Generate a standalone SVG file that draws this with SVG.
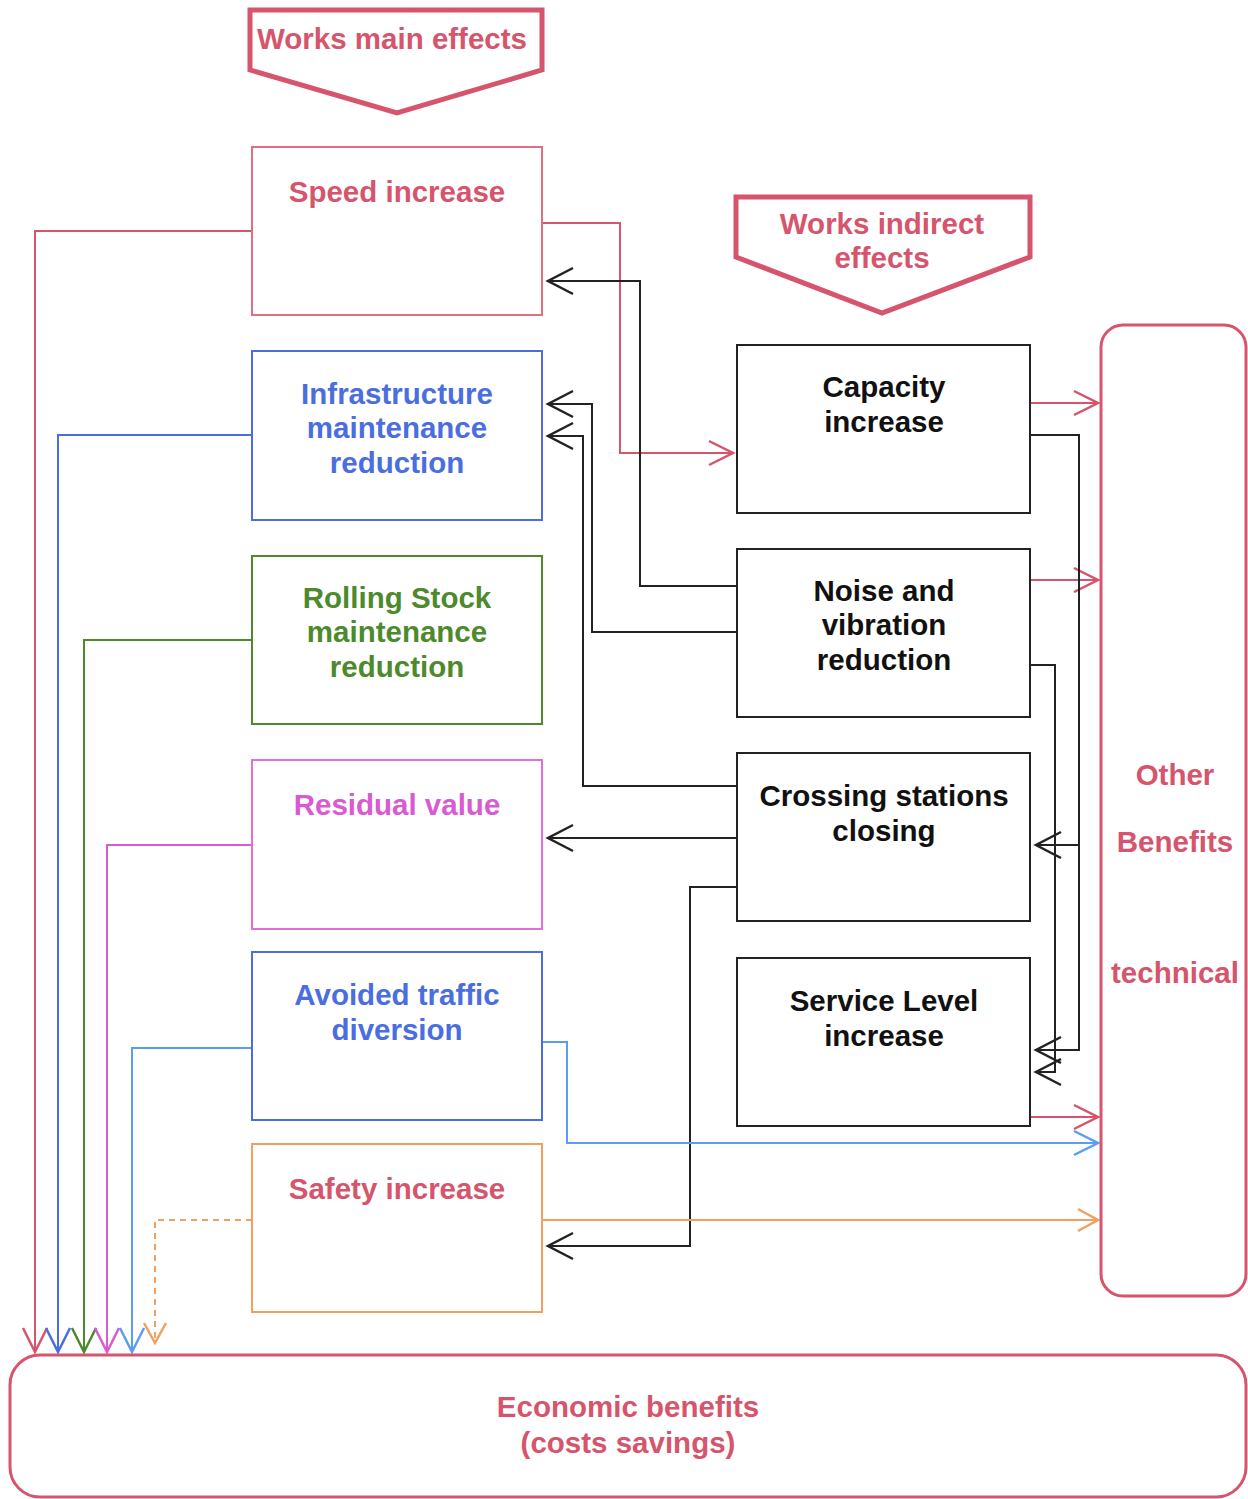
<svg xmlns="http://www.w3.org/2000/svg" width="1248" height="1499" viewBox="0 0 1248 1499">
<style>
text{font-family:"Liberation Sans",Arial,sans-serif;font-weight:bold;font-size:29.5px;text-anchor:middle}
.box{fill:#fff;stroke-width:2}
.c{fill:none;stroke-width:2}
.red{fill:#d6546c}
.blu{fill:#4a6ee0}
.grn{fill:#4c8a2c}
.mag{fill:#d95ad2}
.blk{fill:#111}
</style>
<defs>
<marker id="aR" markerUnits="userSpaceOnUse" orient="auto" refX="0" refY="0" markerWidth="30" markerHeight="30" overflow="visible"><path d="M-24,-12 L0,0 L-24,12" fill="none" stroke="#d6546c" stroke-width="2.5"/></marker>
<marker id="aB" markerUnits="userSpaceOnUse" orient="auto" refX="0" refY="0" markerWidth="30" markerHeight="30" overflow="visible"><path d="M-24,-12 L0,0 L-24,12" fill="none" stroke="#4a6ee0" stroke-width="2.5"/></marker>
<marker id="aG" markerUnits="userSpaceOnUse" orient="auto" refX="0" refY="0" markerWidth="30" markerHeight="30" overflow="visible"><path d="M-24,-12 L0,0 L-24,12" fill="none" stroke="#4c8a2c" stroke-width="2.5"/></marker>
<marker id="aM" markerUnits="userSpaceOnUse" orient="auto" refX="0" refY="0" markerWidth="30" markerHeight="30" overflow="visible"><path d="M-24,-12 L0,0 L-24,12" fill="none" stroke="#d95ad2" stroke-width="2.5"/></marker>
<marker id="aL" markerUnits="userSpaceOnUse" orient="auto" refX="0" refY="0" markerWidth="30" markerHeight="30" overflow="visible"><path d="M-24,-12 L0,0 L-24,12" fill="none" stroke="#5a9ef0" stroke-width="2.5"/></marker>
<marker id="aO" markerUnits="userSpaceOnUse" orient="auto" refX="0" refY="0" markerWidth="30" markerHeight="30" overflow="visible"><path d="M-20,-11 L0,0 L-20,11" fill="none" stroke="#f0a060" stroke-width="2.5"/></marker>
<marker id="aK" markerUnits="userSpaceOnUse" orient="auto" refX="0" refY="0" markerWidth="30" markerHeight="30" overflow="visible"><path d="M-25,-13 L0,0 L-25,13" fill="none" stroke="#222" stroke-width="2.5"/></marker>
</defs>

<g id="connectors">
<path class="c" stroke="#d6546c" d="M252,231 H35 V1352" marker-end="url(#aR)"/>
<path class="c" stroke="#4a6ee0" d="M252,435 H58 V1352" marker-end="url(#aB)"/>
<path class="c" stroke="#4c8a2c" d="M252,640 H84 V1352" marker-end="url(#aG)"/>
<path class="c" stroke="#d95ad2" d="M252,845 H107 V1352" marker-end="url(#aM)"/>
<path class="c" stroke="#5a9ef0" d="M252,1048 H132 V1352" marker-end="url(#aL)"/>
<path class="c" stroke="#f0a060" stroke-dasharray="6,5" d="M252,1220 H155 V1343" marker-end="url(#aO)"/>
<path class="c" stroke="#d6546c" d="M542,223 H620 V453 H733" marker-end="url(#aR)"/>
<path class="c" stroke="#222" d="M737,586 H640 V281 H548" marker-end="url(#aK)"/>
<path class="c" stroke="#222" d="M737,632 H592 V404 H548" marker-end="url(#aK)"/>
<path class="c" stroke="#222" d="M737,786 H583 V436 H548" marker-end="url(#aK)"/>
<path class="c" stroke="#222" d="M737,838 H548" marker-end="url(#aK)"/>
<path class="c" stroke="#222" d="M737,887 H690 V1246 H548" marker-end="url(#aK)"/>
<path class="c" stroke="#5a9ef0" d="M542,1042 H567 V1143 H1098" marker-end="url(#aL)"/>
<path class="c" stroke="#f0a060" d="M542,1220 H1098" marker-end="url(#aO)"/>
<path class="c" stroke="#d6546c" d="M1030,403 H1098" marker-end="url(#aR)"/>
<path class="c" stroke="#d6546c" d="M1030,580 H1098" marker-end="url(#aR)"/>
<path class="c" stroke="#d6546c" d="M1030,1117 H1098" marker-end="url(#aR)"/>
<path class="c" stroke="#222" d="M1030,435 H1079 V1050 H1036" marker-end="url(#aK)"/>
<path class="c" stroke="#222" d="M1079,845 H1036" marker-end="url(#aK)"/>
<path class="c" stroke="#222" d="M1030,665 H1055 V1072 H1036" marker-end="url(#aK)"/>
</g>

<g id="banner-main">
<polygon points="250,10 542,10 542,70 397,113 250,70" fill="#fff" stroke="#d6546c" stroke-width="5"/>
<text x="392" y="49" class="red">Works main effects</text>
</g>
<g id="banner-indirect">
<polygon points="736,197 1030,197 1030,257 882,313 736,257" fill="#fff" stroke="#d6546c" stroke-width="5"/>
<text x="882" y="234" class="red">Works indirect</text>
<text x="882" y="268" class="red">effects</text>
</g>

<g id="speed">
<rect class="box" x="252" y="147" width="290" height="168" stroke="#e07080"/>
<text x="397" y="202" class="red">Speed increase</text>
</g>
<g id="infra">
<rect class="box" x="252" y="351" width="290" height="169" stroke="#4a6ee0"/>
<text x="397" y="404" class="blu">Infrastructure</text>
<text x="397" y="438" class="blu">maintenance</text>
<text x="397" y="473" class="blu">reduction</text>
</g>
<g id="rolling">
<rect class="box" x="252" y="556" width="290" height="168" stroke="#4c8a2c"/>
<text x="397" y="608" class="grn">Rolling Stock</text>
<text x="397" y="642" class="grn">maintenance</text>
<text x="397" y="677" class="grn">reduction</text>
</g>
<g id="residual">
<rect class="box" x="252" y="760" width="290" height="169" stroke="#e070d8"/>
<text x="397" y="815" class="mag">Residual value</text>
</g>
<g id="avoided">
<rect class="box" x="252" y="952" width="290" height="168" stroke="#4a6ee0"/>
<text x="397" y="1005" class="blu">Avoided traffic</text>
<text x="397" y="1040" class="blu">diversion</text>
</g>
<g id="safety">
<rect class="box" x="252" y="1144" width="290" height="168" stroke="#f0a060"/>
<text x="397" y="1199" class="red">Safety increase</text>
</g>

<g id="capacity">
<rect class="box" x="737" y="345" width="293" height="168" stroke="#222"/>
<text x="884" y="397" class="blk">Capacity</text>
<text x="884" y="432" class="blk">increase</text>
</g>
<g id="noise">
<rect class="box" x="737" y="549" width="293" height="168" stroke="#222"/>
<text x="884" y="601" class="blk">Noise and</text>
<text x="884" y="635" class="blk">vibration</text>
<text x="884" y="670" class="blk">reduction</text>
</g>
<g id="crossing">
<rect class="box" x="737" y="753" width="293" height="168" stroke="#222"/>
<text x="884" y="806" class="blk">Crossing stations</text>
<text x="884" y="841" class="blk">closing</text>
</g>
<g id="service">
<rect class="box" x="737" y="958" width="293" height="168" stroke="#222"/>
<text x="884" y="1011" class="blk">Service Level</text>
<text x="884" y="1046" class="blk">increase</text>
</g>

<g id="other">
<rect x="1101" y="325" width="145" height="971" rx="22" fill="none" stroke="#d6546c" stroke-width="3"/>
<text x="1175" y="785" class="red">Other</text>
<text x="1175" y="852" class="red">Benefits</text>
<text x="1175" y="983" class="red">technical</text>
</g>
<g id="economic">
<rect x="10" y="1355" width="1236" height="142" rx="30" fill="#fff" stroke="#d6546c" stroke-width="3"/>
<text x="628" y="1417" class="red">Economic benefits</text>
<text x="628" y="1453" class="red">(costs savings)</text>
</g>
</svg>
